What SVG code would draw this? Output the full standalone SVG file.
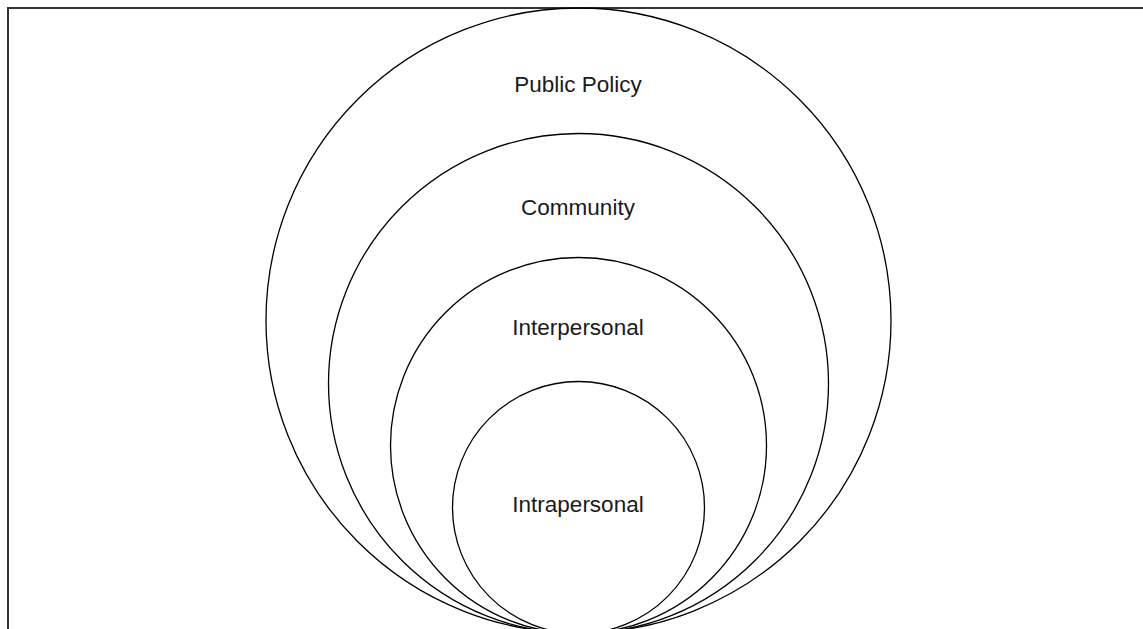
<svg xmlns="http://www.w3.org/2000/svg" width="1143" height="629" viewBox="0 0 1143 629">
<style>
.ring{fill:none;stroke:#000;stroke-width:1.3}
.lbl{font-family:"Liberation Sans",Arial,sans-serif;font-size:22.5px;fill:#1a1a1a;text-anchor:middle}
.frame{fill:none;stroke:#333;stroke-width:2}
</style>
<rect width="1143" height="629" fill="#fff"/>
<path class="frame" d="M8,629 V8 H1143"/>
<g id="public-policy"><circle class="ring" cx="578.5" cy="320.5" r="312.5"/><text class="lbl" x="578" y="92">Public Policy</text></g>
<g id="community"><circle class="ring" cx="578.5" cy="383.5" r="250"/><text class="lbl" x="578" y="215">Community</text></g>
<g id="interpersonal"><circle class="ring" cx="578.5" cy="445.5" r="188"/><text class="lbl" x="578" y="335">Interpersonal</text></g>
<g id="intrapersonal"><circle class="ring" cx="578.5" cy="507.5" r="126"/><text class="lbl" x="578" y="512">Intrapersonal</text></g>
<g id="connectors"></g>
</svg>
